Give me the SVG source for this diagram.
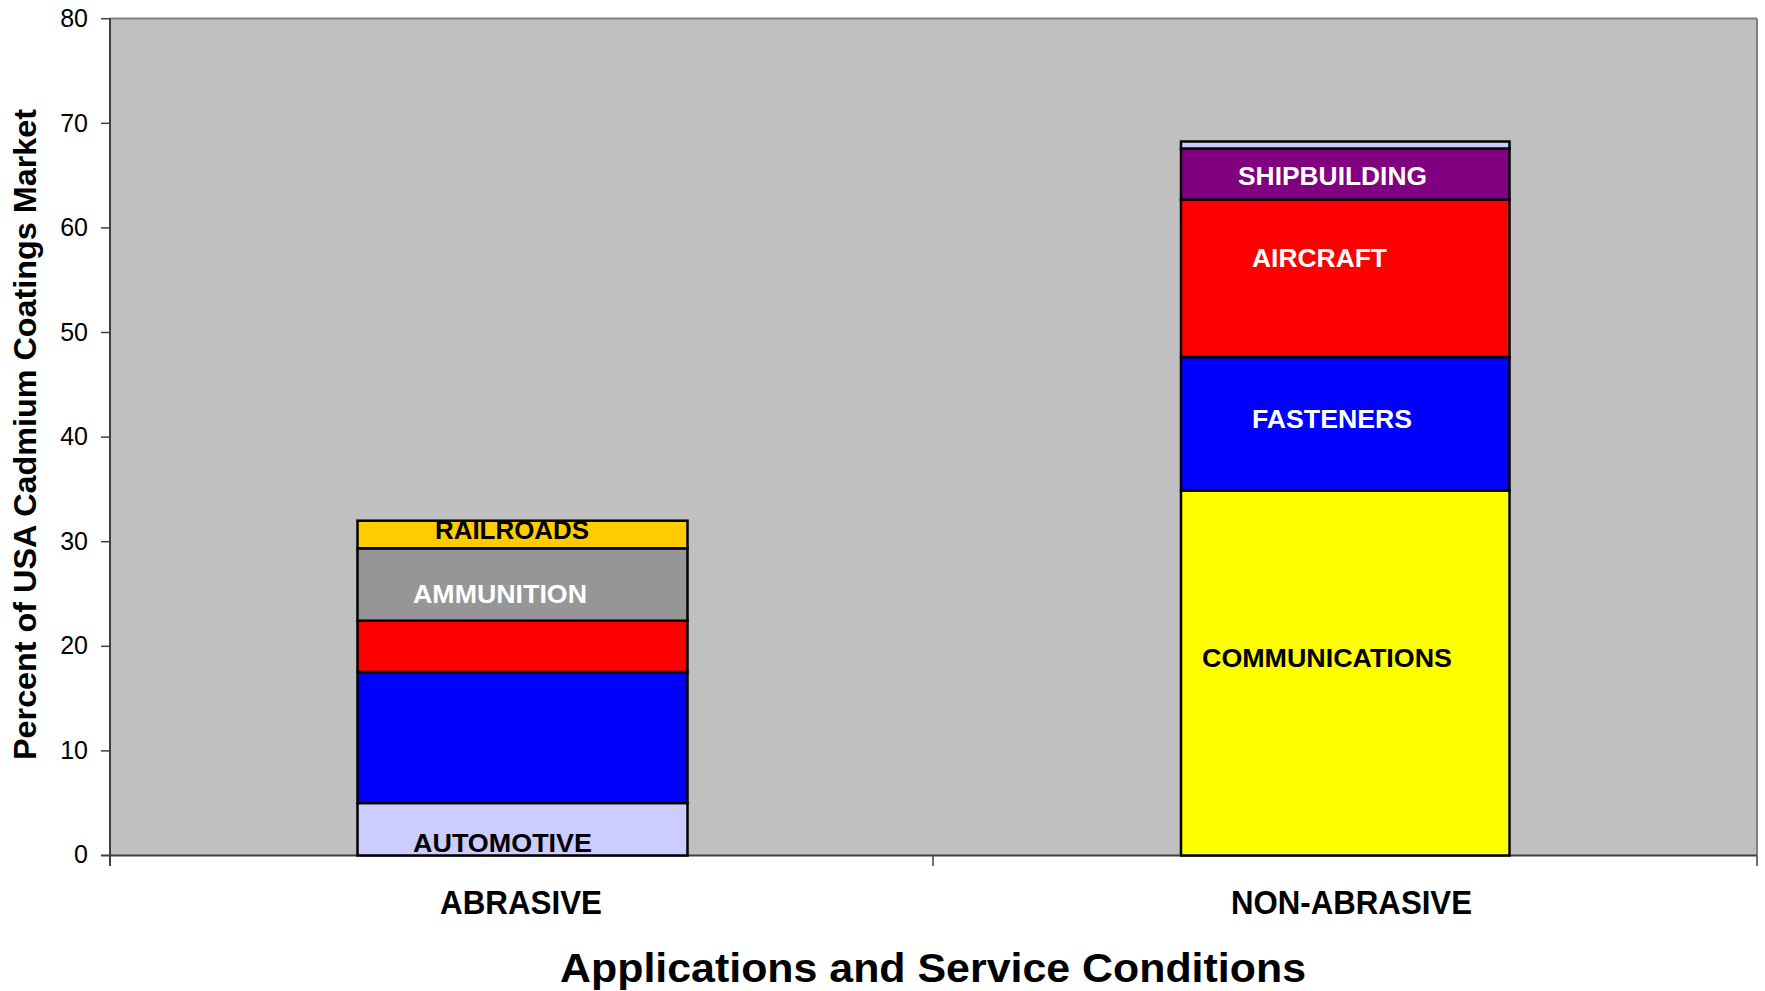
<svg xmlns="http://www.w3.org/2000/svg" width="1765" height="991" viewBox="0 0 1765 991">
<style>
.bg{fill:#ffffff}
.plot{fill:#C0C0C0}
.seg{stroke:#000000;stroke-width:2.5}
.tick{stroke:#404040;stroke-width:1.5}
.num{font-family:"Liberation Sans",Arial,sans-serif;font-size:25px;fill:#000;text-anchor:end}
.lbl{font-family:"Liberation Sans",Arial,sans-serif;font-weight:bold;font-size:25px}
.cat{font-family:"Liberation Sans",Arial,sans-serif;font-weight:bold;font-size:33px;fill:#000}
.ttl{font-family:"Liberation Sans",Arial,sans-serif;font-weight:bold;font-size:40px;fill:#000}
.w{fill:#ffffff}
.k{fill:#000000}
</style>
<rect class="bg" x="0" y="0" width="1765" height="991"/>
<g id="plot-area">
<rect class="plot" x="110" y="18.5" width="1647" height="837"/>
<line x1="110" y1="18.5" x2="1757" y2="18.5" stroke="#808080" stroke-width="2"/>
<line x1="1757" y1="18.5" x2="1757" y2="855.5" stroke="#808080" stroke-width="2"/>
</g>
<g id="axes">
<line x1="110" y1="18" x2="110" y2="866" stroke="#404040" stroke-width="2"/>
<line x1="101" y1="855.5" x2="1757" y2="855.5" stroke="#404040" stroke-width="2"/>
<line class="tick" x1="101" y1="18.7" x2="110" y2="18.7"/>
<line class="tick" x1="101" y1="123.3" x2="110" y2="123.3"/>
<line class="tick" x1="101" y1="227.9" x2="110" y2="227.9"/>
<line class="tick" x1="101" y1="332.5" x2="110" y2="332.5"/>
<line class="tick" x1="101" y1="437.1" x2="110" y2="437.1"/>
<line class="tick" x1="101" y1="541.7" x2="110" y2="541.7"/>
<line class="tick" x1="101" y1="646.3" x2="110" y2="646.3"/>
<line class="tick" x1="101" y1="750.9" x2="110" y2="750.9"/>
<line class="tick" x1="933" y1="855.5" x2="933" y2="866"/>
<line class="tick" x1="1757" y1="855.5" x2="1757" y2="866"/>
<text class="num" x="88" y="27">80</text>
<text class="num" x="88" y="131.5">70</text>
<text class="num" x="88" y="236">60</text>
<text class="num" x="88" y="340.5">50</text>
<text class="num" x="88" y="445">40</text>
<text class="num" x="88" y="549.5">30</text>
<text class="num" x="88" y="654">20</text>
<text class="num" x="88" y="758.5">10</text>
<text class="num" x="88" y="863">0</text>
<text class="cat" x="440" y="914" textLength="162" lengthAdjust="spacingAndGlyphs">ABRASIVE</text>
<text class="cat" x="1231" y="914" textLength="241" lengthAdjust="spacingAndGlyphs">NON-ABRASIVE</text>
<text class="ttl" x="560" y="982" textLength="746" lengthAdjust="spacingAndGlyphs">Applications and Service Conditions</text>
<text class="ttl" style="font-size:31px" transform="translate(36,434.5) rotate(-90)" x="0" y="0" text-anchor="middle" textLength="651" lengthAdjust="spacingAndGlyphs">Percent of USA Cadmium  Coatings Market</text>
</g>
<g id="bar-abrasive">
<rect class="seg" x="357.5" y="803" width="330" height="52.5" fill="#CCCCFF"/>
<rect class="seg" x="357.5" y="672" width="330" height="131" fill="#0000FF"/>
<rect class="seg" x="357.5" y="620.7" width="330" height="51.3" fill="#FF0000"/>
<rect class="seg" x="357.5" y="548.3" width="330" height="72.4" fill="#969696"/>
<rect class="seg" x="357.5" y="520.7" width="330" height="27.6" fill="#FFCC00"/>
<text class="lbl k" x="435" y="539" textLength="154" lengthAdjust="spacingAndGlyphs">RAILROADS</text>
<text class="lbl w" x="413" y="603" textLength="174" lengthAdjust="spacingAndGlyphs">AMMUNITION</text>
<text class="lbl k" x="413" y="852" textLength="179" lengthAdjust="spacingAndGlyphs">AUTOMOTIVE</text>
</g>
<g id="bar-non-abrasive">
<rect class="seg" x="1181" y="490.5" width="328.5" height="365" fill="#FFFF00"/>
<rect class="seg" x="1181" y="357" width="328.5" height="133.5" fill="#0000FF"/>
<rect class="seg" x="1181" y="199.7" width="328.5" height="157.3" fill="#FF0000"/>
<rect class="seg" x="1181" y="148.5" width="328.5" height="51.2" fill="#800080"/>
<rect class="seg" x="1181" y="141.5" width="328.5" height="7" fill="#CCCCFF"/>
<text class="lbl w" x="1238" y="185" textLength="189" lengthAdjust="spacingAndGlyphs">SHIPBUILDING</text>
<text class="lbl w" x="1252" y="267" textLength="135" lengthAdjust="spacingAndGlyphs">AIRCRAFT</text>
<text class="lbl w" x="1252" y="428" textLength="160" lengthAdjust="spacingAndGlyphs">FASTENERS</text>
<text class="lbl k" x="1202" y="667" textLength="250" lengthAdjust="spacingAndGlyphs">COMMUNICATIONS</text>
</g>
</svg>
